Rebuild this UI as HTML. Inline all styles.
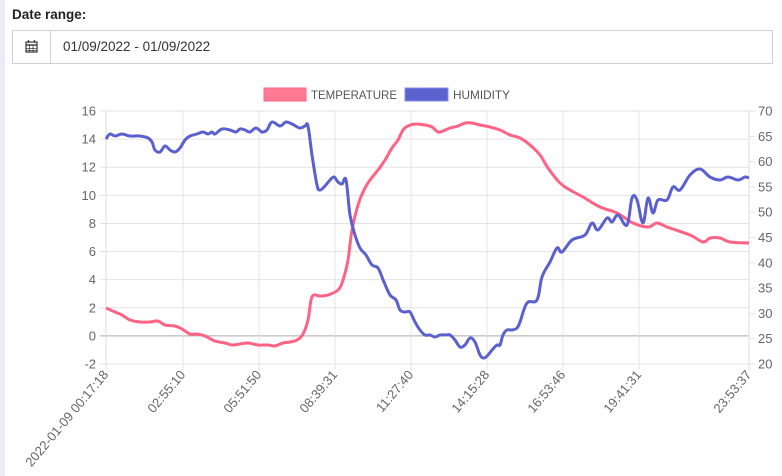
<!DOCTYPE html>
<html><head><meta charset="utf-8"><style>
body{margin:0;width:782px;height:476px;background:#fff;font-family:"Liberation Sans",sans-serif;position:relative;overflow:hidden}
.strip{position:absolute;left:0;top:0;width:5px;height:476px;background:#e9ebf5}
.lbl{position:absolute;left:12px;top:7px;font-weight:bold;font-size:13.5px;color:#222}
.box{position:absolute;left:12px;top:30px;width:759px;height:32px;border:1px solid #ccd0d8}
.icon{position:absolute;left:0;top:0;width:37px;height:32px;border-right:1px solid #ccd0d8}
.txt{position:absolute;left:50px;top:8px;font-size:13.5px;color:#333}
</style></head><body>
<div class="strip"></div>
<div class="lbl">Date range:</div>
<div class="box"><div class="icon"><svg width="37" height="32"><rect x="13" y="11" width="11" height="10" fill="none" stroke="#444" stroke-width="1.3"/><line x1="13" y1="14" x2="24" y2="14" stroke="#444" stroke-width="1.5"/><line x1="15.5" y1="9" x2="15.5" y2="12" stroke="#444" stroke-width="1.3"/><line x1="21.5" y1="9" x2="21.5" y2="12" stroke="#444" stroke-width="1.3"/><path d="M13 17.5H24M13 19.5H24M16.5 14V21M20 14V21" stroke="#444" stroke-width=".8"/></svg></div><div class="txt">01/09/2022 - 01/09/2022</div></div>
<svg id="c" width="782" height="476" style="position:absolute;left:0;top:0" font-family="Liberation Sans, sans-serif" font-size="12.5" fill="#666">
<rect x="264" y="88" width="42" height="13" fill="#ff7a93" stroke="#ff6384"/>
<text x="311" y="99" fill="#555" font-size="12" textLength="86" lengthAdjust="spacingAndGlyphs">TEMPERATURE</text>
<rect x="405" y="88" width="43" height="13" fill="#5b61cf" stroke="#8a90e0"/>
<text x="453" y="99" fill="#555" font-size="12" textLength="57" lengthAdjust="spacingAndGlyphs">HUMIDITY</text>
<g id="grid" stroke="#e3e3e3" stroke-width="1"></g>
<g id="lab"></g>
<path id="t" fill="none" stroke="#ff6384" stroke-width="3" stroke-linejoin="round"/>
<path id="h" fill="none" stroke="#5a60cf" stroke-width="3" stroke-linejoin="round"/>
</svg>
<script>
var g=document.getElementById('grid'),L=document.getElementById('lab'),ns='http://www.w3.org/2000/svg';
function el(p,t,a,txt){var e=document.createElementNS(ns,t);for(var k in a)e.setAttribute(k,a[k]);if(txt!=null)e.textContent=txt;p.appendChild(e);return e;}
for(var i=0;i<=9;i++){var y=111+i*253/9;var v=16-2*i;
el(g,'line',{x1:100,x2:749,y1:y,y2:y,stroke:v==0?'#aaa':'#e3e3e3'});
el(L,'text',{x:96,y:y+4.5,'text-anchor':'end','font-size':13},v);}
for(var i=0;i<=10;i++){var y=111+i*25.3;el(L,'line',{x1:749,x2:755,y1:y,y2:y,stroke:'#e3e3e3'});el(L,'text',{x:758,y:y+4.5,'font-size':13},70-5*i);}
var xs=[106,183,259,335,411,487,563,639,749],lb=['2022-01-09 00:17:18','02:55:10','05:51:50','08:39:31','11:27:40','14:15:28','16:53:46','19:41:31','23:53:37'];
xs.forEach(function(x,i){el(g,'line',{x1:x,x2:x,y1:111,y2:370,stroke:(i==0||i==8)?'#ddd':'#e3e3e3'});
el(L,'text',{x:x+3,y:375,'text-anchor':'end','font-size':13,transform:'rotate(-50 '+(x+3)+' 375)'},lb[i]);});
function path(p){var d='M'+p[0][0]+' '+p[0][1];for(var i=0;i<p.length-1;i++){var p0=p[i-1]||p[i],p1=p[i],p2=p[i+1],p3=p[i+2]||p2;var t=0.18;
d+=' C'+(p1[0]+(p2[0]-p0[0])*t)+' '+(p1[1]+(p2[1]-p0[1])*t)+' '+(p2[0]-(p3[0]-p1[0])*t)+' '+(p2[1]-(p3[1]-p1[1])*t)+' '+p2[0]+' '+p2[1];}return d;}
var T=[[106,308],[115,312],[122,315],[130,320],[140,322],[150,322],[158,321],[165,325],[175,326],[182,329],[190,334],[197,334],[205,336],[215,341],[225,343],[232,345],[240,344],[248,343],[258,345],[268,345],[275,346],[283,343],[290,342],[297,340],[303,334],[308,320],[312,297],[320,296],[328,295],[338,290],[343,280],[348,260],[352,230],[358,205],[364,190],[370,180],[378,170],[385,160],[392,148],[398,140],[403,130],[408,126],[415,124],[425,125],[432,127],[438,132],[443,131],[450,128],[458,126],[465,123],[472,123],[480,125],[490,127],[500,130],[510,135],[520,138],[530,145],[540,155],[548,168],[560,183],[570,190],[583,197],[600,207],[617,213],[633,223],[648,227],[657,223],[667,227],[690,235],[703,242],[710,238],[720,238],[730,242],[749,243]];
var H=[[106,139],[110,134],[115,136],[122,134],[130,136],[140,136],[148,138],[152,142],[155,150],[160,152],[165,146],[170,150],[175,152],[180,148],[185,140],[190,136],[197,134],[203,132],[208,134],[212,132],[215,134],[222,129],[230,130],[236,132],[240,129],[245,130],[250,132],[256,128],[262,132],[267,130],[272,122],[280,126],[286,122],[292,124],[300,128],[305,126],[308,126],[312,155],[317,185],[320,190],[325,186],[330,180],[334,177],[338,182],[342,184],[346,180],[350,215],[355,235],[360,248],[366,255],[372,265],[378,268],[384,282],[390,295],[396,300],[400,310],[405,312],[410,312],[415,322],[420,330],[425,335],[430,335],[435,337],[440,335],[445,335],[450,335],[455,340],[460,347],[465,345],[470,338],[475,342],[480,355],[484,358],[488,355],[492,350],[497,345],[500,345],[503,335],[507,330],[512,330],[517,328],[520,322],[527,303],[537,300],[542,277],[550,262],[557,248],[562,252],[572,240],[585,235],[592,223],[598,230],[607,218],[612,222],[618,215],[627,225],[632,198],[637,200],[643,223],[648,198],[653,213],[658,200],[667,200],[673,187],[680,190],[690,175],[700,169],[710,177],[720,180],[728,177],[738,180],[745,177],[749,178]];
document.getElementById('t').setAttribute('d',path(T));
document.getElementById('h').setAttribute('d',path(H));
</script>
</body></html>
